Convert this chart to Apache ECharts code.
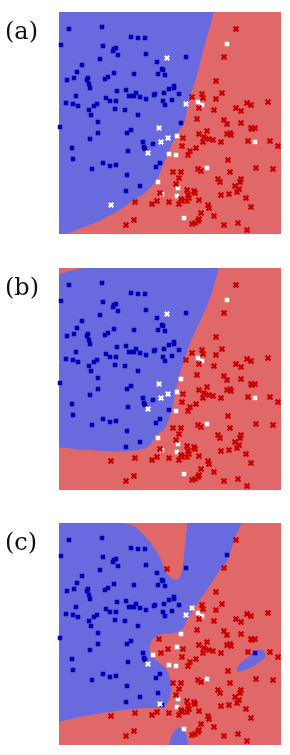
<!DOCTYPE html>
<html><head><meta charset="utf-8">
<script src="https://cdn.jsdelivr.net/npm/echarts@6/dist/echarts.min.js"></script>
<style>html,body{margin:0;padding:0;background:#fff;}#c{width:290px;height:755px;}</style>
</head><body><div id="c"></div>
<script>
// ---- data (domain 0..222 on both axes) ----
const blueClass = [[10,205],[43,207],[72,197],[79,196],[86,196],[2,189],[44,188],[57,186],[55,185],[54,183],[59,179],[41,175],[87,180],[127,177],[98,172],[23,169],[103,165],[104,164],[18,162],[55,161],[75,160],[99,160],[106,159],[15,156],[29,156],[28,154],[49,157],[46,155],[8,154],[30,150],[31,146],[115,148],[115,146],[110,145],[58,143],[67,144],[105,141],[96,140],[95,139],[77,141],[120,140],[70,138],[73,138],[17,138],[75,138],[81,137],[87,135],[47,136],[51,133],[57,133],[113,134],[104,133],[7,131],[14,130],[19,128],[38,130],[35,128],[106,129],[30,124],[56,125],[66,124],[32,119],[79,119],[39,112],[122,111],[1,107],[72,104],[68,101],[39,101],[31,95],[84,92],[94,90],[13,86],[85,87],[86,85],[69,83],[14,75],[44,71],[51,68],[57,69],[101,71],[97,67],[33,65],[68,59],[81,48],[67,43],[168,190],[139,132],[143,129],[118,98],[196,92],[110,80],[117,79],[148,66],[99,52],[119,46],[103,40],[118,38],[125,16]];
const redClass = [[177,205],[165,177],[157,153],[163,141],[133,137],[143,140],[144,136],[157,135],[140,126],[155,124],[188,131],[192,129],[209,132],[177,126],[182,123],[138,115],[165,114],[168,110],[182,111],[192,106],[196,106],[193,105],[148,103],[140,100],[168,100],[171,101],[172,99],[124,96],[145,97],[150,95],[154,94],[144,92],[162,92],[189,93],[211,93],[219,88],[123,88],[137,86],[131,83],[129,79],[169,74],[139,65],[142,63],[197,66],[214,65],[114,62],[122,62],[171,62],[120,56],[159,55],[161,52],[182,55],[181,52],[117,50],[176,48],[180,45],[178,42],[128,44],[135,43],[136,41],[129,39],[130,36],[162,39],[170,40],[187,36],[76,32],[93,30],[98,33],[110,32],[120,30],[122,35],[123,33],[128,33],[140,34],[149,29],[150,26],[192,27],[142,21],[155,18],[75,14],[67,9],[133,10],[136,11],[139,13],[140,15],[165,9],[179,11],[188,4],[101,41],[108,176],[127,130],[100,106],[109,96],[102,92],[89,81],[52,29]];

// blue decision regions per panel (vertices in data units)
const regionA = [[158,232],[155,223.3],[150.7,206.7],[146,190],[141.7,173.3],[137.3,156.7],[132,140],[128,123.3],[125,111],[116.7,97.7],[110,82.7],[104.3,69.3],[97.7,54.3],[91,46],[83.3,39.3],[72,32],[61,24.3],[49.3,17.7],[37.7,12],[24.3,6.7],[11,1.3],[2.7,-0.7],[-10,-4],[-10,232]];
const regionB = [[-10,43],[0,42.7],[12.7,41.3],[29.3,40],[49.3,38.7],[66,38.7],[79.3,40],[88.7,42.7],[92.7,47.7],[97.7,54.7],[106,62],[110.3,72],[113.3,82],[115.3,93.7],[118,105.3],[121,117],[125.3,130.3],[130,143.7],[135.3,157],[141.7,170.3],[147.7,183.7],[152.7,197],[156.7,210.3],[160,222.7],[163,232],[60,232],[26.7,222.7],[9.3,218.7],[0,215.3],[-10,212]];
const regionC = [[-10,232],[50,232],[58,223],[66,221.2],[74,219.5],[79,216],[85,209.5],[92,201.7],[97.7,193.3],[102,185],[105.3,176.7],[109.3,170],[113.3,166.7],[117.3,165.3],[120,166.7],[122,170.7],[123.7,178.3],[125,190],[126.3,203.3],[127.7,216.7],[128.3,222],[128.8,232],[186,232],[182.7,222],[177.7,211.7],[173,198.3],[168.7,185],[161,175],[154.3,165],[147.7,155],[140,144],[133.3,134],[128.3,125],[124.3,117.3],[120,113.3],[111,111.7],[102,110.7],[96,108.3],[92.3,103.3],[90.7,97.3],[92,90.7],[97,85],[103.3,80],[108.3,74],[111,66.7],[112,58.3],[111.3,50],[109.3,43.3],[105.3,38.7],[97.7,37.3],[86,37],[69.3,35.7],[52.7,33.3],[36,30.7],[19.3,27.7],[6,24.7],[0,23],[-10,20]];
const ellipseC = [[177.7,75],[179.3,79.3],[184.3,84],[191,89],[196.7,94],[202.7,95],[206.3,91.3],[205.3,86.7],[200,82.3],[192.7,78],[185.3,74.7],[180,73.3]];
const bumpC = [[110.3,-3],[110.8,3],[112.7,9.3],[116,15],[120,17.3],[124.3,15],[127.3,9.3],[128.8,3],[129.3,-3]];

const panelLabels = ['(a)','(b)','(c)'];
const panelRegions = [[regionA],[regionB],[regionC, ellipseC, bumpC]];

// ---- styling ----
const RED_BG = '#e06868', BLUE_BG = '#6a6adf';
const BLUE_PT = '#0000b4', RED_PT = '#c80000', WHITE = '#ffffff';
const tops = [12, 268, 523];
const CROSS = 'path://M0,2L2,0L4,2L6,0L8,2L6,4L8,6L6,8L4,6L2,8L0,6L2,4Z';

function inside(pt, poly){
  let c = false;
  for (let i=0, j=poly.length-1; i<poly.length; j=i++){
    const xi=poly[i][0], yi=poly[i][1], xj=poly[j][0], yj=poly[j][1];
    if (((yi>pt[1]) !== (yj>pt[1])) && (pt[0] < (xj-xi)*(pt[1]-yi)/(yj-yi)+xi)) c = !c;
  }
  return c;
}
const predBlue = (pt, polys) => polys.some(p => inside(pt, p));

const grid=[], xAxis=[], yAxis=[], series=[], graphic=[];
tops.forEach((t, k) => {
  grid.push({left:59, top:t, width:222, height:222, show:true, backgroundColor:RED_BG, borderWidth:0});
  xAxis.push({type:'value', gridIndex:k, min:0, max:222, show:false});
  yAxis.push({type:'value', gridIndex:k, min:0, max:222, show:false});
  const polys = panelRegions[k];
  series.push({
    type:'custom', xAxisIndex:k, yAxisIndex:k, clip:true, silent:true, z:1,
    data: polys.map((p,i)=>[i,0]),
    renderItem: (params, api) => ({
      type:'polygon',
      shape:{points: polys[params.dataIndex].map(p => api.coord(p)), smooth:0.3},
      style:{fill: BLUE_BG}
    })
  });
  const bOk = blueClass.filter(p => predBlue(p, polys));
  const bBad = blueClass.filter(p => !predBlue(p, polys));
  const rOk = redClass.filter(p => !predBlue(p, polys));
  const rBad = redClass.filter(p => predBlue(p, polys));
  const sc = (data, symbol, size, color) => ({type:'scatter', xAxisIndex:k, yAxisIndex:k, z:3, silent:true,
    data, symbol, symbolSize:size, itemStyle:{color, opacity:1}});
  series.push(sc(bOk,'rect',4.5,BLUE_PT));
  series.push(sc(bBad,'rect',4.5,WHITE));
  series.push(sc(rOk,CROSS,6.5,RED_PT));
  series.push(sc(rBad,CROSS,6,WHITE));
  graphic.push({type:'text', left:5, top:t+9, style:{text:panelLabels[k], fontSize:24, fontFamily:'DejaVu Serif', fill:'#111'}});
});

const chart = echarts.init(document.getElementById('c'), null, {renderer:'canvas'});
chart.setOption({animation:false, grid, xAxis, yAxis, series, graphic});
</script></body></html>
